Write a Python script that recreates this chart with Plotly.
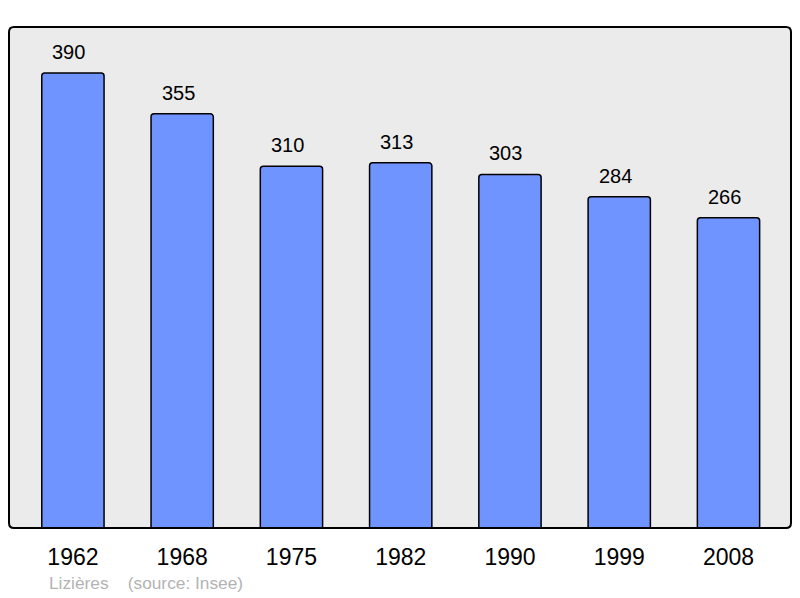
import plotly.graph_objects as go

years = ['1962', '1968', '1975', '1982', '1990', '1999', '2008']
population = [390, 355, 310, 313, 303, 284, 266]
commune = 'Lizières'
source = '(source: Insee)'

FONT = 'Liberation Sans, Arial, sans-serif'

# la page html a une marge de 8px : on réduit la figure d'autant
W, H = 784, 590
L, R, T, B = 1, 1, 19, 70
pw, ph = W - L - R, H - T - B

fig = go.Figure()

fig.add_trace(go.Bar(
    x=list(range(len(years))),
    y=population,
    width=0.57,
    marker=dict(color='#7094ff', line=dict(color='#000000', width=1.5), cornerradius=3),
    hoverinfo='skip',
))

# valeurs au-dessus des barres
for i, v in enumerate(population):
    fig.add_annotation(x=i, y=v, text=str(v), showarrow=False, yshift=21, xshift=-4,
                       font=dict(size=20, color='#000000', family=FONT))

fig.add_annotation(xref='paper', yref='paper', x=0.049, y=-0.11, xanchor='left', yanchor='middle',
                   text=commune + '&nbsp;' * 4 + source, showarrow=False,
                   font=dict(size=17.3, color='#b3b3b3', family=FONT))

# cadre à coins arrondis
rx, ry = 5 / pw, 5 / ph
path = (f'M {rx},0 L {1 - rx},0 Q 1,0 1,{ry} L 1,{1 - ry} Q 1,1 {1 - rx},1 '
        f'L {rx},1 Q 0,1 0,{1 - ry} L 0,{ry} Q 0,0 {rx},0 Z')
fig.add_shape(type='path', xref='paper', yref='paper', path=path,
              line=dict(color='#000000', width=2), layer='above')

fig.update_layout(
    width=W, height=H, autosize=False,
    margin=dict(l=L, r=R, t=T, b=B, pad=0),
    plot_bgcolor='#ebebeb',
    paper_bgcolor='white',
    showlegend=False,
    font=dict(family=FONT),
    xaxis=dict(range=[-0.585, 6.572], tickmode='array', tickvals=list(range(len(years))),
               ticktext=years, showgrid=False, zeroline=False, ticks='outside', ticklen=8,
               tickcolor='rgba(0,0,0,0)', tickfont=dict(size=23, color='#000000')),
    yaxis=dict(range=[0, 429.4], showgrid=False, zeroline=False, showticklabels=False),
)

fig.write_html('out.html')
